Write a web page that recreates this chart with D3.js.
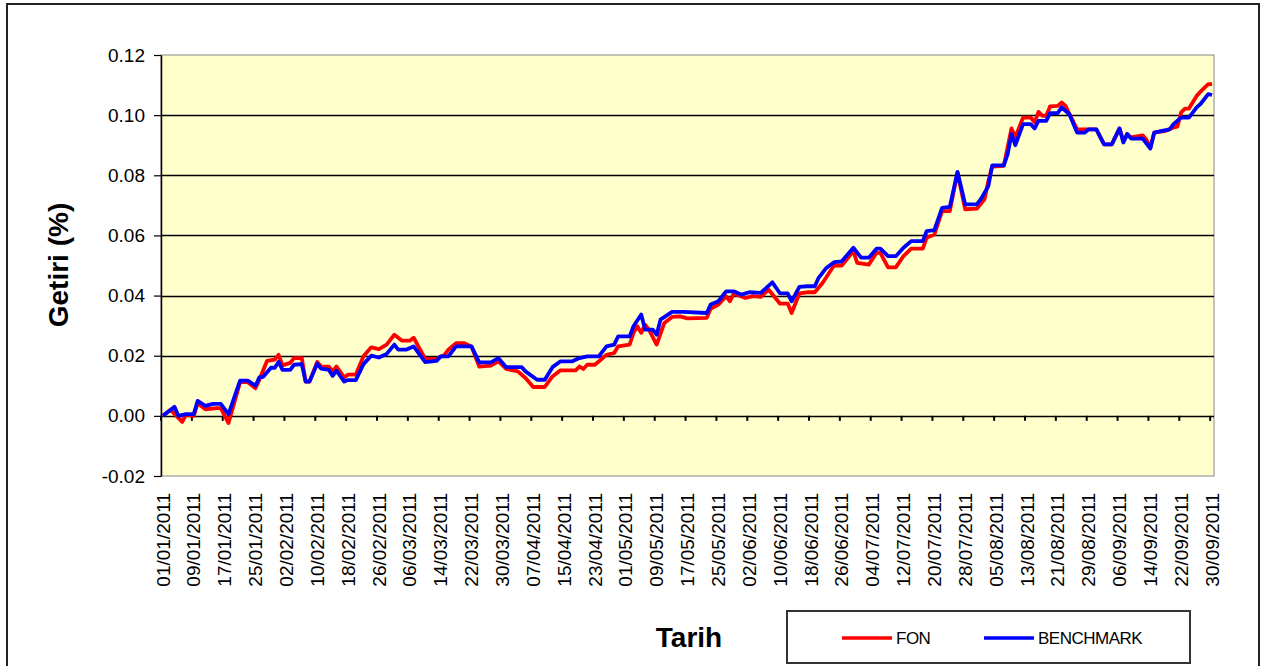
<!DOCTYPE html>
<html>
<head>
<meta charset="utf-8">
<script src="https://cdn.jsdelivr.net/npm/d3@7"></script>
<style>
  body { margin: 0; background: #fff; }
  svg { display: block; font-family: "Liberation Sans", Arial, sans-serif; }
</style>
</head>
<body>
<svg id="chart" width="1264" height="666"></svg>
<script>
// x categories: one label every 8 days
const tickLabels = [
  "01/01/2011", "09/01/2011", "17/01/2011", "25/01/2011", "02/02/2011", "10/02/2011",
  "18/02/2011", "26/02/2011", "06/03/2011", "14/03/2011", "22/03/2011", "30/03/2011",
  "07/04/2011", "15/04/2011", "23/04/2011", "01/05/2011", "09/05/2011", "17/05/2011",
  "25/05/2011", "02/06/2011", "10/06/2011", "18/06/2011", "26/06/2011", "04/07/2011",
  "12/07/2011", "20/07/2011", "28/07/2011", "05/08/2011", "13/08/2011", "21/08/2011",
  "29/08/2011", "06/09/2011", "14/09/2011", "22/09/2011", "30/09/2011"
];
const yTicks = [-0.02, 0, 0.02, 0.04, 0.06, 0.08, 0.10, 0.12];
const seriesNames = ["FON", "BENCHMARK"];

// [days since 01/01/2011, return]
const fonData = [
  [0, 0], [2, 0.002], [5, -0.002], [6, 0.0004], [8, 0], [9, 0.0042], [11, 0.0022],
  [14, 0.0026], [15, 0.0026], [17, -0.0024], [20, 0.0112], [22, 0.0112], [24, 0.0092],
  [25, 0.012], [27, 0.0183], [29, 0.0187], [30, 0.0203], [31, 0.0168], [33, 0.0176],
  [34, 0.0192], [36, 0.0192], [37, 0.0114], [38, 0.0114], [40, 0.0179], [41, 0.0164],
  [43, 0.0164], [44, 0.0148], [45, 0.0164], [47, 0.0128], [48, 0.0137], [50, 0.0137],
  [52, 0.0198], [54, 0.0228], [56, 0.0222], [58, 0.0237], [60, 0.027], [62, 0.025],
  [64, 0.025], [65, 0.026], [68, 0.0189], [71, 0.0189], [73, 0.0203], [74, 0.022],
  [76, 0.0242], [78, 0.0242], [80, 0.0231], [82, 0.0164], [85, 0.0167], [87, 0.0181],
  [89, 0.0156], [92, 0.0148], [94, 0.0126], [96, 0.0096], [99, 0.0096], [101, 0.0131],
  [103, 0.0151], [107, 0.0151], [108, 0.0164], [109, 0.0156], [110, 0.017], [112, 0.017],
  [115, 0.0203], [117, 0.0209], [118, 0.0231], [121, 0.0237], [122, 0.0276], [123, 0.0298],
  [124, 0.0276], [125, 0.0303], [126, 0.0287], [128, 0.0237], [130, 0.0309], [132, 0.0329],
  [134, 0.0331], [136, 0.0324], [141, 0.0326], [142, 0.0356], [144, 0.037], [146, 0.0398],
  [147, 0.0381], [148, 0.0407], [151, 0.0392], [153, 0.0398], [155, 0.0396], [157, 0.042],
  [160, 0.0373], [162, 0.0373], [163, 0.0342], [165, 0.0407], [167, 0.0411], [169, 0.0411],
  [171, 0.0442], [173, 0.0481], [174, 0.05], [176, 0.05], [179, 0.0548], [180, 0.0509],
  [183, 0.0503], [185, 0.0542], [186, 0.0542], [188, 0.0494], [190, 0.0494], [192, 0.0531],
  [194, 0.0556], [197, 0.0556], [198, 0.0592], [200, 0.0603], [202, 0.0681], [204, 0.0681],
  [206, 0.0809], [208, 0.0687], [211, 0.0689], [213, 0.072], [214, 0.0781], [215, 0.0829],
  [218, 0.0831], [220, 0.0956], [221, 0.0926], [223, 0.0992], [225, 0.0992], [226, 0.0976],
  [227, 0.1011], [228, 0.0998], [229, 0.0998], [230, 0.1029], [232, 0.1031], [233, 0.1042],
  [234, 0.1031], [237, 0.0953], [239, 0.0953], [242, 0.0953], [244, 0.0903], [246, 0.0903],
  [248, 0.0956], [249, 0.0913], [250, 0.0937], [251, 0.0926], [254, 0.0933], [255, 0.0918],
  [256, 0.0892], [257, 0.0942], [260, 0.0948], [262, 0.0959], [263, 0.0962], [264, 0.1009],
  [265, 0.1022], [266, 0.1022], [268, 0.1064], [269, 0.1078], [271, 0.1103], [272, 0.1103]
];

const benchmarkData = [
  [0, 0], [3, 0.003], [4, 0], [6, 0.0006], [8, 0.0006], [9, 0.005], [11, 0.0033],
  [13, 0.004], [15, 0.004], [17, 0.0006], [20, 0.0117], [22, 0.0117], [24, 0.01],
  [25, 0.0128], [26, 0.013], [28, 0.016], [29, 0.016], [30, 0.018], [31, 0.0153],
  [33, 0.0153], [34, 0.017], [36, 0.0172], [37, 0.0114], [38, 0.0114], [40, 0.0173],
  [41, 0.0157], [43, 0.0153], [44, 0.0133], [45, 0.015], [47, 0.0114], [48, 0.0119],
  [50, 0.0119], [52, 0.0172], [54, 0.02], [56, 0.0194], [58, 0.0206], [60, 0.0237],
  [61, 0.022], [63, 0.022], [65, 0.0231], [68, 0.0179], [71, 0.0183], [72, 0.0198],
  [74, 0.0198], [76, 0.0231], [80, 0.0231], [82, 0.0178], [85, 0.0178], [87, 0.0192],
  [89, 0.0162], [93, 0.0162], [94, 0.0148], [97, 0.012], [99, 0.012], [101, 0.0162],
  [103, 0.0181], [106, 0.0181], [108, 0.0192], [110, 0.0198], [113, 0.0198], [115, 0.0231],
  [117, 0.0237], [118, 0.0264], [121, 0.0264], [122, 0.0298], [124, 0.0337], [125, 0.0287],
  [127, 0.0287], [128, 0.027], [129, 0.032], [132, 0.0346], [135, 0.0346], [141, 0.0342],
  [142, 0.037], [144, 0.0381], [146, 0.0414], [148, 0.0414], [150, 0.0403], [152, 0.0411],
  [155, 0.0409], [158, 0.0444], [160, 0.0407], [162, 0.0407], [163, 0.0381], [165, 0.0429],
  [167, 0.0431], [169, 0.0431], [170, 0.0459], [172, 0.0492], [174, 0.0511], [176, 0.0514],
  [179, 0.0559], [181, 0.0526], [183, 0.0526], [185, 0.0556], [186, 0.0556], [188, 0.0531],
  [190, 0.0531], [192, 0.0559], [194, 0.0581], [197, 0.0581], [198, 0.0614], [200, 0.0618],
  [202, 0.0692], [204, 0.0695], [206, 0.0811], [208, 0.0703], [211, 0.0703], [212, 0.072],
  [214, 0.0764], [215, 0.0833], [218, 0.0833], [219, 0.087], [220, 0.0937], [221, 0.09],
  [223, 0.097], [225, 0.097], [226, 0.0956], [227, 0.0981], [229, 0.0981], [230, 0.1007],
  [232, 0.1007], [233, 0.1026], [235, 0.1003], [237, 0.0942], [239, 0.0942], [240, 0.0953],
  [242, 0.0953], [244, 0.0903], [246, 0.0903], [248, 0.0956], [249, 0.0909], [250, 0.0937],
  [251, 0.0922], [254, 0.0922], [256, 0.0889], [257, 0.0942], [259, 0.0948], [261, 0.0953],
  [262, 0.097], [264, 0.0992], [266, 0.0992], [268, 0.1026], [269, 0.1037], [271, 0.107],
  [272, 0.1067]
];

const colors = { FON: "#ff0000", BENCHMARK: "#0000ff" };

// ---- layout ----
const plot = { left: 161, right: 1214, top: 55, bottom: 476 };
const svg = d3.select("#chart");
const parse = d3.utcParse("%d/%m/%Y");
const t0 = parse(tickLabels[0]);
const t1 = parse(tickLabels[tickLabels.length - 1]);

// each day is a category, so the domain runs half a day beyond each end
const x = d3.scaleUtc()
  .domain([d3.utcHour.offset(t0, -12), d3.utcHour.offset(t1, 12)])
  .range([plot.left, plot.right]);
const y = d3.scaleLinear().domain([-0.02, 0.12]).range([plot.bottom, plot.top]);

// Excel-style label: plain hyphen for negatives
const fmtY = (d) => d3.format(".2f")(d).replace("\u2212", "-");

// outer frame
svg.append("rect")
  .attr("x", 7).attr("y", 4).attr("width", 1252).attr("height", 700)
  .attr("fill", "#fff").attr("stroke", "#222").attr("stroke-width", 2);

// plot area
svg.append("rect")
  .attr("x", plot.left).attr("y", plot.top)
  .attr("width", plot.right - plot.left).attr("height", plot.bottom - plot.top)
  .attr("fill", "#ffffcc").attr("stroke", "#888").attr("stroke-width", 1);

// horizontal gridlines
svg.append("g")
  .selectAll("line")
  .data(yTicks.slice(1, -1))
  .join("line")
  .attr("x1", plot.left).attr("x2", plot.right)
  .attr("y1", (d) => Math.round(y(d)) + 0.5).attr("y2", (d) => Math.round(y(d)) + 0.5)
  .attr("stroke", "#000").attr("stroke-width", 1.4);

// ticks on the zero line, at category boundaries every 8 days
svg.append("g")
  .selectAll("line")
  .data(tickLabels.map(parse))
  .join("line")
  .attr("x1", (d) => x(d3.utcHour.offset(d, -12)))
  .attr("x2", (d) => x(d3.utcHour.offset(d, -12)))
  .attr("y1", y(0)).attr("y2", y(0) + 5)
  .attr("stroke", "#000").attr("stroke-width", 2);

// y axis
const yAxis = svg.append("g")
  .attr("transform", `translate(${plot.left},0)`)
  .call(d3.axisLeft(y).tickValues(yTicks).tickFormat(fmtY)
    .tickSize(7).tickPadding(9).tickSizeOuter(0));
yAxis.select(".domain").attr("stroke", "#000").attr("stroke-width", 1.5);
yAxis.selectAll(".tick line").attr("stroke", "#000").attr("stroke-width", 1.2);
yAxis.selectAll(".tick text")
  .attr("font-size", 19).attr("fill", "#000")
  .attr("font-family", "'Liberation Sans', Arial, sans-serif");

// x labels (vertical)
svg.append("g")
  .selectAll("text")
  .data(tickLabels)
  .join("text")
  .attr("transform", (d) => `translate(${x(parse(d))},493) rotate(-90)`)
  .attr("text-anchor", "end")
  .attr("dy", "0.35em")
  .attr("font-size", 19)
  .attr("fill", "#000")
  .text((d) => d);

// series (benchmark drawn last, on top)
const line = d3.line()
  .x((d) => x(d3.utcDay.offset(t0, d[0])))
  .y((d) => y(d[1]));

const seriesData = { FON: fonData, BENCHMARK: benchmarkData };
for (const name of seriesNames) {
  svg.append("path")
    .datum(seriesData[name])
    .attr("fill", "none")
    .attr("stroke", colors[name])
    .attr("stroke-width", 3.8)
    .attr("stroke-linejoin", "round")
    .attr("d", line);
}

// axis titles
svg.append("text")
  .attr("transform", "translate(68,265) rotate(-90)")
  .attr("text-anchor", "middle")
  .attr("font-size", 28).attr("font-weight", "bold")
  .text("Getiri (%)");

svg.append("text")
  .attr("x", 689).attr("y", 647)
  .attr("text-anchor", "middle")
  .attr("font-size", 28).attr("font-weight", "bold")
  .text("Tarih");

// legend
const legend = svg.append("g");
legend.append("rect")
  .attr("x", 787).attr("y", 611).attr("width", 403).attr("height", 52)
  .attr("fill", "#fff").attr("stroke", "#333").attr("stroke-width", 2);

const legendItems = [
  { name: seriesNames[0], x0: 842 },
  { name: seriesNames[1], x0: 984 }
];
legend.selectAll("line")
  .data(legendItems)
  .join("line")
  .attr("x1", (d) => d.x0).attr("x2", (d) => d.x0 + 50)
  .attr("y1", 638).attr("y2", 638)
  .attr("stroke", (d) => colors[d.name]).attr("stroke-width", 3.5);
legend.selectAll("text")
  .data(legendItems)
  .join("text")
  .attr("x", (d) => d.x0 + 54).attr("y", 638)
  .attr("dy", "0.35em")
  .attr("font-size", 17)
  .attr("letter-spacing", -0.5)
  .text((d) => d.name);
</script>
</body>
</html>
